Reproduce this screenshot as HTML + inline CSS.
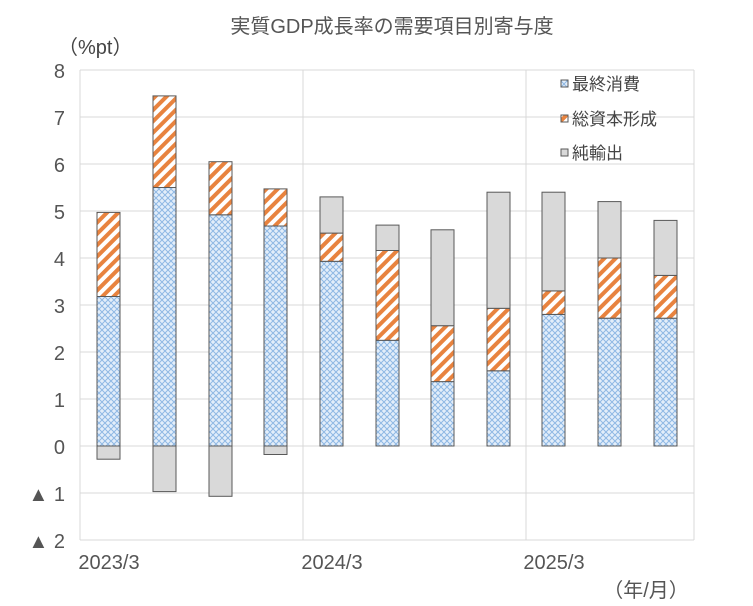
<!DOCTYPE html>
<html><head><meta charset="utf-8"><style>
body{margin:0;background:#fff}
svg{display:block;font-family:"Liberation Sans","Noto Sans CJK JP",sans-serif}
</style></head><body>
<svg width="753" height="606" viewBox="0 0 753 606">
<defs>
<pattern id="fc" width="6" height="6" patternUnits="userSpaceOnUse">
<rect width="6" height="6" fill="#e3eefa"/>
<path d="M0 0L6 6M6 0L0 6" stroke="#8fb8e4" stroke-width="1"/>
</pattern>
<pattern id="gc" width="8" height="8" patternUnits="userSpaceOnUse" patternTransform="rotate(45)">
<rect width="8" height="8" fill="#fff"/>
<rect width="4" height="8" fill="#e8833f"/>
</pattern>
</defs>
<text x="392" y="33" font-size="20" fill="#555" text-anchor="middle">実質GDP成長率の需要項目別寄与度</text>
<text x="58" y="54" font-size="20" fill="#444">（%pt）</text>
<g stroke="#d9d9d9" stroke-width="1">
<line x1="80" y1="70" x2="694" y2="70"/><line x1="80" y1="117" x2="694" y2="117"/>
<line x1="80" y1="164" x2="694" y2="164"/><line x1="80" y1="211" x2="694" y2="211"/>
<line x1="80" y1="258" x2="694" y2="258"/><line x1="80" y1="305" x2="694" y2="305"/>
<line x1="80" y1="352" x2="694" y2="352"/><line x1="80" y1="399" x2="694" y2="399"/>
<line x1="80" y1="446" x2="694" y2="446"/><line x1="80" y1="493" x2="694" y2="493"/>
<line x1="80" y1="540" x2="694" y2="540"/>
<line x1="80" y1="70" x2="80" y2="540"/><line x1="303" y1="70" x2="303" y2="540"/>
<line x1="526" y1="70" x2="526" y2="540"/><line x1="694" y1="70" x2="694" y2="540"/>
</g>
<g font-size="20" fill="#555" text-anchor="end">
<text x="65" y="78">8</text><text x="65" y="125">7</text><text x="65" y="172">6</text>
<text x="65" y="219">5</text><text x="65" y="266">4</text><text x="65" y="313">3</text>
<text x="65" y="360">2</text><text x="65" y="407">1</text><text x="65" y="454">0</text>
<text x="65" y="501">▲ 1</text><text x="65" y="548">▲ 2</text>
</g>
<g font-size="20" fill="#555" text-anchor="middle">
<text x="109" y="569">2023/3</text><text x="332" y="569">2024/3</text><text x="554" y="569">2025/3</text>
<text x="646" y="597">（年/月）</text>
</g>
<g stroke="#595959" stroke-width="1">
<rect x="97" y="296.5" width="23" height="149.5" fill="url(#fc)"/>
<rect x="97" y="212.4" width="23" height="84.1" fill="url(#gc)"/>
<rect x="97" y="446" width="23" height="13.2" fill="#d9d9d9"/>
<rect x="153" y="187.5" width="23" height="258.5" fill="url(#fc)"/>
<rect x="153" y="95.9" width="23" height="91.6" fill="url(#gc)"/>
<rect x="153" y="446" width="23" height="45.6" fill="#d9d9d9"/>
<rect x="209" y="214.8" width="23" height="231.2" fill="url(#fc)"/>
<rect x="209" y="161.7" width="23" height="53.1" fill="url(#gc)"/>
<rect x="209" y="446" width="23" height="50.3" fill="#d9d9d9"/>
<rect x="264" y="226" width="23" height="220" fill="url(#fc)"/>
<rect x="264" y="188.9" width="23" height="37.1" fill="url(#gc)"/>
<rect x="264" y="446" width="23" height="8.5" fill="#d9d9d9"/>
<rect x="320" y="261.3" width="23" height="184.7" fill="url(#fc)"/>
<rect x="320" y="233.1" width="23" height="28.2" fill="url(#gc)"/>
<rect x="320" y="196.9" width="23" height="36.2" fill="#d9d9d9"/>
<rect x="376" y="340.3" width="23" height="105.7" fill="url(#fc)"/>
<rect x="376" y="250.5" width="23" height="89.8" fill="url(#gc)"/>
<rect x="376" y="225.1" width="23" height="25.4" fill="#d9d9d9"/>
<rect x="431" y="381.6" width="23" height="64.4" fill="url(#fc)"/>
<rect x="431" y="325.7" width="23" height="55.9" fill="url(#gc)"/>
<rect x="431" y="229.8" width="23" height="95.9" fill="#d9d9d9"/>
<rect x="487" y="370.8" width="23" height="75.2" fill="url(#fc)"/>
<rect x="487" y="308.3" width="23" height="62.5" fill="url(#gc)"/>
<rect x="487" y="192.2" width="23" height="116.1" fill="#d9d9d9"/>
<rect x="542" y="314.4" width="23" height="131.6" fill="url(#fc)"/>
<rect x="542" y="290.9" width="23" height="23.5" fill="url(#gc)"/>
<rect x="542" y="192.2" width="23" height="98.7" fill="#d9d9d9"/>
<rect x="598" y="318.2" width="23" height="127.8" fill="url(#fc)"/>
<rect x="598" y="258" width="23" height="60.2" fill="url(#gc)"/>
<rect x="598" y="201.6" width="23" height="56.4" fill="#d9d9d9"/>
<rect x="654" y="318.2" width="23" height="127.8" fill="url(#fc)"/>
<rect x="654" y="275.4" width="23" height="42.8" fill="url(#gc)"/>
<rect x="654" y="220.4" width="23" height="55" fill="#d9d9d9"/>
</g>
<g stroke="#595959" stroke-width="1">
<rect x="561" y="80" width="7" height="7" fill="url(#fc)"/>
<rect x="561" y="115" width="7" height="7" fill="url(#gc)"/>
<rect x="561" y="149" width="7" height="7" fill="#d9d9d9"/>
</g>
<g font-size="17" fill="#444">
<text x="572" y="90">最終消費</text>
<text x="572" y="125">総資本形成</text>
<text x="572" y="159">純輸出</text>
</g>
</svg>
</body></html>
